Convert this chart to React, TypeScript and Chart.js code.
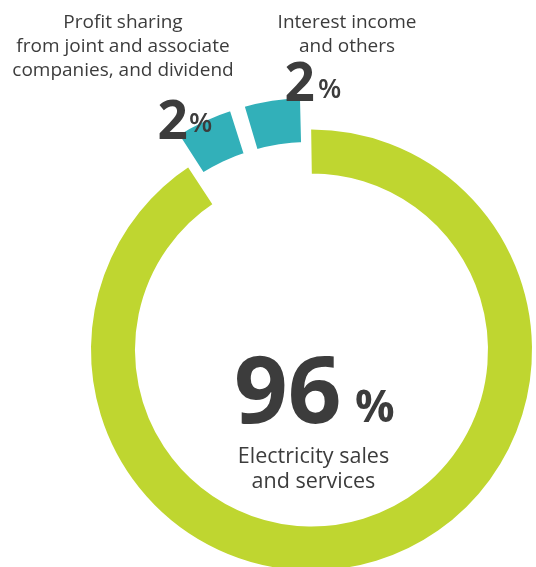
import React, { useEffect, useRef } from 'react';
import { Chart, registerables } from 'chart.js';

Chart.register(...registerables);

// Categories (clockwise from the top)
const categories = [
  'Electricity sales and services',
  'Profit sharing from joint and associate companies, and dividend',
  'Interest income and others',
];
// Percentages printed on the chart
const percentValues = [96, 2, 2];
// Shares of the ring as drawn in the picture (small slices are drawn enlarged)
const arcShares = [91, 4.5, 4.5];

const GREEN = '#BFD630';
const TEAL = '#32B0B9';
const TEXT = '#3c3c3c';
const FONT = '"Open Sans", "Noto Sans", sans-serif';

function Txt(props: { left: number; top: number; size: number; weight?: number; children: React.ReactNode; width?: number; align?: 'left' | 'center'; lh?: number }) {
  const { left, top, size, weight = 400, children, width, align = 'left', lh } = props;
  return (
    <div
      style={{
        position: 'absolute',
        left,
        top,
        width,
        fontFamily: FONT,
        fontSize: size,
        fontWeight: weight,
        lineHeight: lh !== undefined ? lh + 'px' : 0,
        color: TEXT,
        textAlign: align,
        whiteSpace: 'nowrap',
      }}
    >
      {children}
    </div>
  );
}

export default function App() {
  const ref = useRef<HTMLCanvasElement | null>(null);

  useEffect(() => {
    if (!ref.current) return;
    const chart = new Chart(ref.current, {
      type: 'doughnut',
      data: {
        labels: categories,
        datasets: [
          {
            data: arcShares,
            backgroundColor: [GREEN, TEAL, TEAL],
            borderColor: '#ffffff',
            borderWidth: 6,
            offset: [0, 74, 74],
          },
        ],
      },
      options: {
        responsive: false,
        animation: false,
        rotation: -0.87,
        radius: 223.5,
        cutout: '77.63%',
        layout: { padding: 0 },
        plugins: {
          legend: { display: false },
          tooltip: { enabled: false },
        },
        events: [],
      },
    });
    return () => chart.destroy();
  }, []);

  // baseline helper (line-height 0): baseline = top + 0.388 * size
  const b = (baseline: number, size: number) => baseline - 0.388 * size;

  return (
    <div
      style={{
        position: 'fixed',
        left: 0,
        top: 0,
        width: 536,
        height: 567,
        overflow: 'hidden',
        background: '#ffffff',
      }}
    >
      <canvas
        ref={ref}
        width={601}
        height={600}
        style={{ position: 'absolute', left: 11, top: 50, width: 601, height: 600 }}
      />

      {/* Slice names */}
      <Txt left={123 - 150} top={28.3 - 12 - 0.388 * 19} size={19} width={300} align="center" lh={24}>
        Profit sharing
        <br />
        from joint and associate
        <br />
        companies, and dividend
      </Txt>
      <Txt left={347 - 150} top={28.3 - 12 - 0.388 * 19} size={19} width={300} align="center" lh={24}>
        Interest income
        <br />
        and others
      </Txt>

      {/* Small percentages */}
      <Txt left={157.5} top={b(140, 53)} size={53} weight={700}>{percentValues[1]}</Txt>
      <Txt left={189} top={b(132, 27)} size={27} weight={600}>%</Txt>
      <Txt left={284.5} top={b(102, 53)} size={53} weight={700}>{percentValues[2]}</Txt>
      <Txt left={318} top={b(98, 27)} size={27} weight={600}>%</Txt>

      {/* Main percentage */}
      <Txt left={234} top={b(423, 94)} size={94} weight={700}>{percentValues[0]}</Txt>
      <Txt left={355} top={b(422, 44)} size={44} weight={700}>%</Txt>
      <Txt left={313.5 - 150} top={463 - 12.5 - 0.388 * 21.5} size={21.5} width={300} align="center" lh={25}>
        Electricity sales
        <br />
        and services
      </Txt>
    </div>
  );
}
